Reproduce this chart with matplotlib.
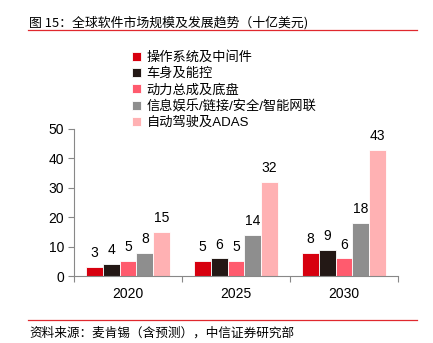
import matplotlib
matplotlib.use("Agg")
import matplotlib.pyplot as plt
import numpy as np

plt.rcParams['font.family'] = ['Liberation Sans', 'Noto Sans CJK SC', 'DejaVu Sans']

years = ['2020', '2025', '2030']
series = ['操作系统及中间件', '车身及能控', '动力总成及底盘', '信息娱乐/链接/安全/智能网联', '自动驾驶及ADAS']
values = [
    [3, 5, 8],
    [4, 6, 9],
    [5, 5, 6],
    [8, 14, 18],
    [15, 32, 43],
]
colors = ['#D7000F', '#231815', '#FF5B6E', '#8E8E8E', '#FFB1B3']

fig = plt.figure(figsize=(4.33, 3.43), dpi=100)
ax = fig.add_axes([0.171, 0.195, 0.748, 0.429])

x = np.arange(len(years))
w = 0.156
for i, (s, v, c) in enumerate(zip(series, values, colors)):
    pos = x + (i - 2) * w
    ax.bar(pos, v, width=w, color=c, edgecolor='white', linewidth=0.6, label=s)
    for p, val in zip(pos, v):
        ax.annotate(str(val), (p, val), xytext=(0, 5), textcoords='offset points',
                    ha='center', va='bottom', fontsize=10)

ax.set_xlim(-0.5, 2.5)
ax.set_ylim(0, 50)
ax.set_yticks([0, 10, 20, 30, 40, 50])
ax.set_xticks([-0.5, 0.5, 1.5, 2.5], minor=False)
ax.set_xticklabels([])
ax.set_xticks(x, minor=True)
ax.set_xticklabels(years, minor=True)
ax.tick_params(axis='x', which='minor', length=0, labelsize=10, pad=8)
ax.tick_params(axis='x', which='major', length=4, color='#888888', direction='out')
ax.tick_params(axis='y', length=4, color='#888888', labelsize=10, pad=3)
for sp in ['top', 'right']:
    ax.spines[sp].set_visible(False)
for sp in ['left', 'bottom']:
    ax.spines[sp].set_color('#888888')
    ax.spines[sp].set_linewidth(0.8)

handles, labels = ax.get_legend_handles_labels()
fig.legend(handles, labels, loc='upper left', bbox_to_anchor=(0.305, 0.85),
           frameon=False, fontsize=9.5, handlelength=0.7, handleheight=0.7,
           handletextpad=0.4, labelspacing=0.28, borderaxespad=0, borderpad=0)

fig.text(0.067, 0.935, '图 15：全球软件市场规模及发展趋势（十亿美元)', fontsize=9.3,
         ha='left', va='center', family=['Noto Sans CJK SC', 'DejaVu Sans'])
fig.add_artist(plt.Line2D([0.065, 0.962], [0.912, 0.912], color='#E0282E', linewidth=0.9))
fig.add_artist(plt.Line2D([0.065, 0.962], [0.067, 0.067], color='#E0282E', linewidth=0.9))
fig.text(0.067, 0.03, '资料来源：麦肯锡（含预测），中信证券研究部', fontsize=9.1,
         ha='left', va='center', family=['Noto Sans CJK SC', 'DejaVu Sans'])

fig.savefig('out.png', dpi=100)
